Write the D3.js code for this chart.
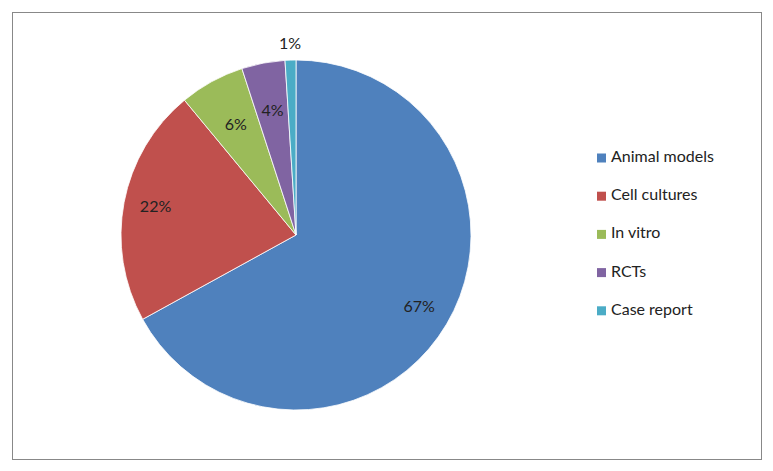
<!DOCTYPE html>
<html>
<head>
<meta charset="utf-8">
<script src="https://cdn.jsdelivr.net/npm/d3@7"></script>
<style>
  body { margin: 0; background: #fff; }
  text { font-family: Lato, "Open Sans", sans-serif; fill: #222; }
</style>
</head>
<body>
<div id="chart"></div>
<script>
// Chart data
var categories = ["Animal models", "Cell cultures", "In vitro", "RCTs", "Case report"];
var shares = [67, 22, 6, 4, 1];
var colors = ["#4F81BD", "#C0504D", "#9BBB59", "#8064A2", "#4BACC6"];

var width = 773, height = 471,
    cx = 296, cy = 235, radius = 175;

var svg = d3.select("#chart").append("svg")
    .attr("width", width)
    .attr("height", height);

// Outer frame
svg.append("rect")
    .attr("x", 12.5).attr("y", 12.5)
    .attr("width", 749).attr("height", 447)
    .attr("fill", "#fff").attr("stroke", "#888").attr("stroke-width", 1);

var data = categories.map(function(c, i) { return {name: c, value: shares[i], color: colors[i]}; });

var pie = d3.pie().sort(null).value(function(d) { return d.value; });
var arc = d3.arc().innerRadius(0).outerRadius(radius);
var arcs = pie(data);

var g = svg.append("g").attr("transform", "translate(" + cx + "," + cy + ")");

g.selectAll("path")
    .data(arcs)
    .enter()
    .append("path")
    .attr("d", arc)
    .attr("fill", function(d) { return d.data.color; })
    .attr("stroke", "#fff")
    .attr("stroke-width", 0.8);

// Labels: inside for the big slices, outside for the tiny one
g.selectAll("text.lbl")
    .data(arcs)
    .enter()
    .append("text")
    .attr("class", "lbl")
    .attr("transform", function(d) {
        var r = d.data.value < 3 ? 190 : (d.data.value < 10 ? 125 : 143);
        var a = (d.startAngle + d.endAngle) / 2;
        return "translate(" + (r * Math.sin(a)) + "," + (-r * Math.cos(a)) + ")";
    })
    .attr("text-anchor", "middle")
    .attr("dominant-baseline", "middle")
    .style("font-size", "16px")
    .text(function(d) { return d.data.value + "%"; });

// Legend
var legend = svg.append("g").attr("transform", "translate(597,158)");
var items = legend.selectAll("g")
    .data(data)
    .enter()
    .append("g")
    .attr("transform", function(d, i) { return "translate(0," + (i * 38.2) + ")"; });

items.append("rect")
    .attr("x", 0).attr("y", -4.5)
    .attr("width", 9).attr("height", 9)
    .attr("fill", function(d) { return d.color; });

items.append("text")
    .attr("x", 14).attr("y", 0)
    .attr("dominant-baseline", "middle")
    .style("font-size", "16px")
    .text(function(d) { return d.name; });
</script>
</body>
</html>
